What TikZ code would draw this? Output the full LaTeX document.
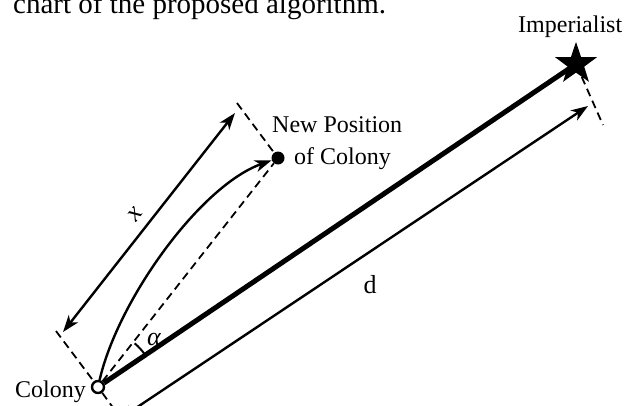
\documentclass[tikz,border=0pt]{standalone}
\usepackage{fontspec}
\setmainfont{Liberation Serif}
\usetikzlibrary{shapes.geometric,arrows.meta}
\begin{document}
\begin{tikzpicture}[x=1pt,y=-1pt,
  lbl/.style={font=\fontsize{24}{28}\selectfont, inner sep=0pt},
  tip/.style={Stealth[length=17pt,width=12pt,inset=5pt]},
  arr/.style={line width=2.4pt, -{Stealth[length=17pt,width=12pt,inset=5pt]}},
  dbl/.style={line width=2.4pt, {Stealth[length=17pt,width=12pt,inset=5pt]}-{Stealth[length=17pt,width=12pt,inset=5pt]}},
  dsh/.style={line width=1.8pt, dash pattern=on 8pt off 5pt},
  thk/.style={line width=5pt},
]
\clip (0,0) rectangle (637,405);
\fill[white] (0,0) rectangle (637,405);
% caption fragment
\node[font=\fontsize{29}{32}\selectfont, inner sep=0pt, anchor=base west] (cap) at (13,13) {chart of the proposed algorithm.};
% main nodes
\node[star, star points=5, star point ratio=2.55, fill=black, draw=none, minimum size=44pt, inner sep=0pt] (imp) at (576,64) {};
\node[circle, draw=black, fill=white, line width=2.4pt, minimum size=12pt, inner sep=0pt] (colony) at (98,387) {};
\node[circle, fill=black, minimum size=13pt, inner sep=0pt] (newpos) at (278,158) {};
% labels
\node[lbl, anchor=base west] (limp) at (518,32) {Imperialist};
\node[lbl, anchor=base west] (lnew1) at (272,132) {New Position};
\node[lbl, anchor=base west] (lnew2) at (294,164) {of Colony};
\node[lbl, anchor=base west] (lcol) at (15,397) {Colony};
% helper coordinates
\coordinate (xa) at (63,332);
\coordinate (xb) at (235,113);
\coordinate (xe1) at (56,331);
\coordinate (xe2) at (237,103);
\coordinate (ds) at (118,420);
\coordinate (dt) at (588,106);
\coordinate (de) at (603,125);
\coordinate (cb) at (122,420);
% main thick line
\draw[thk] (colony) -- (imp.center);
% dashed line colony to new position
\draw[dsh] (colony) -- (newpos);
% extension dashed lines
\draw[dsh] (xe1) -- (colony) -- (cb);
\draw[dsh] (xe2) -- (newpos);
\draw[dsh] (imp) -- (de);
% curved movement arrow
\draw[arr] (colony) .. controls (118,300) and (200,186) .. (newpos);
% x dimension
\draw[dbl] (xa) -- (xb) node[midway, lbl, font=\fontsize{26}{30}\selectfont\itshape, rotate=52, xshift=-2pt, yshift=16pt] (lx) {x};
% d dimension
\draw[dbl] (ds) -- (dt);
\node[lbl, font=\fontsize{26}{30}\selectfont] (ld) at (370,285) {d};
% alpha angle
\draw[line width=2pt] (144.7,354.3) arc[start angle=-35, end angle=-50, radius=57];
\node[lbl, font=\fontsize{26}{30}\selectfont\itshape] (lal) at (154,339) {α};
\end{tikzpicture}
\end{document}
